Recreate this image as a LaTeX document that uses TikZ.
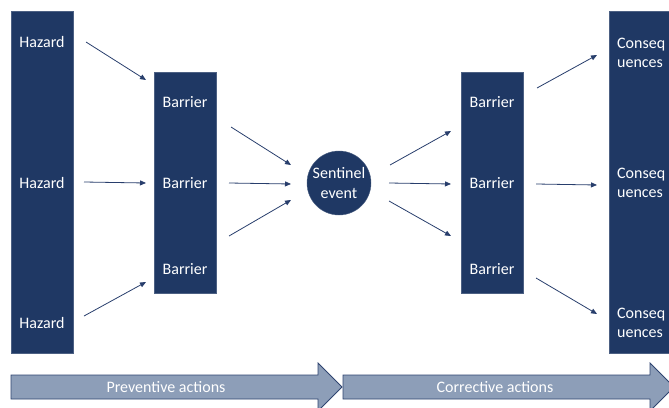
\documentclass[tikz,border=0pt]{standalone}
\usepackage{fontspec}
\setmainfont{Carlito}
\usetikzlibrary{arrows.meta}
\definecolor{navy}{RGB}{31,56,100}
\definecolor{lnk}{RGB}{40,62,108}
\definecolor{actfill}{RGB}{141,158,184}
\definecolor{actdraw}{RGB}{47,68,112}
\tikzset{
  block/.style={fill=navy, draw=navy!80!white, line width=0.4pt, inner sep=0pt},
  lbl/.style={text=white, font=\fontsize{16}{19.2}\selectfont, inner sep=0pt, align=center},
  lbll/.style={text=white, font=\fontsize{16}{19.2}\selectfont, inner sep=0pt, align=left, anchor=west},
  link/.style={draw=lnk, line width=0.8pt, -{Triangle[length=6pt,width=5pt]}},
  act/.style={fill=actfill, draw=actdraw, line width=0.8pt},
  actlbl/.style={text=white, font=\fontsize{16}{19.2}\selectfont, inner sep=0pt}
}
\begin{document}
\begin{tikzpicture}[x=1pt,y=-1pt]
\useasboundingbox (0,0) rectangle (669,407);
\clip (0,0) rectangle (669,407);
% columns and barriers
\node[block, minimum width=62pt, minimum height=342pt] (hazcol) at (42,182) {};
\node[block, minimum width=62pt, minimum height=221pt] (barL) at (185,182.5) {};
\node[block, minimum width=62pt, minimum height=221pt] (barR) at (492,182.5) {};
\node[block, minimum width=70pt, minimum height=342pt] (concol) at (644,182) {};
\node[block, circle, minimum size=64pt] (sent) at (339,183) {};
% texts
\node[lbl] (h1) at (42,42) {Hazard};
\node[lbl] (h2) at (42,183) {Hazard};
\node[lbl] (h3) at (42,323) {Hazard};
\node[lbl] (bl1) at (185,102) {Barrier};
\node[lbl] (bl2) at (185,183) {Barrier};
\node[lbl] (bl3) at (185,269) {Barrier};
\node[lbl] (br1) at (492,102) {Barrier};
\node[lbl] (br2) at (492,183) {Barrier};
\node[lbl] (br3) at (492,269) {Barrier};
\node[lbl] (st) at (339,183) {Sentinel\\event};
\node[lbll] (c1) at (617,52.5) {Conseq\\uences};
\node[lbll] (c2) at (617,182.5) {Conseq\\uences};
\node[lbll] (c3) at (617,323) {Conseq\\uences};
% link end points
\coordinate (a1s) at (86,42);   \coordinate (a1e) at (146,80);
\coordinate (a2s) at (84,182);  \coordinate (a2e) at (146,183);
\coordinate (a3s) at (84,316);  \coordinate (a3e) at (146,282);
\coordinate (b1s) at (231,127); \coordinate (b1e) at (291,165);
\coordinate (b2s) at (229,183); \coordinate (b2e) at (291,184);
\coordinate (b3s) at (229,236); \coordinate (b3e) at (291,200);
\coordinate (s1s) at (390,165); \coordinate (s1e) at (451,131);
\coordinate (s2s) at (389,183); \coordinate (s2e) at (451,184);
\coordinate (s3s) at (389,201); \coordinate (s3e) at (451,236);
\coordinate (r1s) at (537,88);  \coordinate (r1e) at (597,55);
\coordinate (r2s) at (536,184); \coordinate (r2e) at (597,185);
\coordinate (r3s) at (536,278); \coordinate (r3e) at (597,314);
\foreach \p in {a1,a2,a3,b1,b2,b3,s1,s2,s3,r1,r2,r3}
  \draw[link] (\p s) -- (\p e);
% action arrows
\draw[act] (11,375) -- (318,375) -- (318,363) -- (342,387) -- (318,411) -- (318,399) -- (11,399) -- cycle;
\draw[act] (343,375) -- (650,375) -- (650,363) -- (674,387) -- (650,411) -- (650,399) -- (343,399) -- cycle;
\node[actlbl] (prev) at (166,387) {Preventive actions};
\node[actlbl] (corr) at (495,387) {Corrective actions};
\end{tikzpicture}
\end{document}
